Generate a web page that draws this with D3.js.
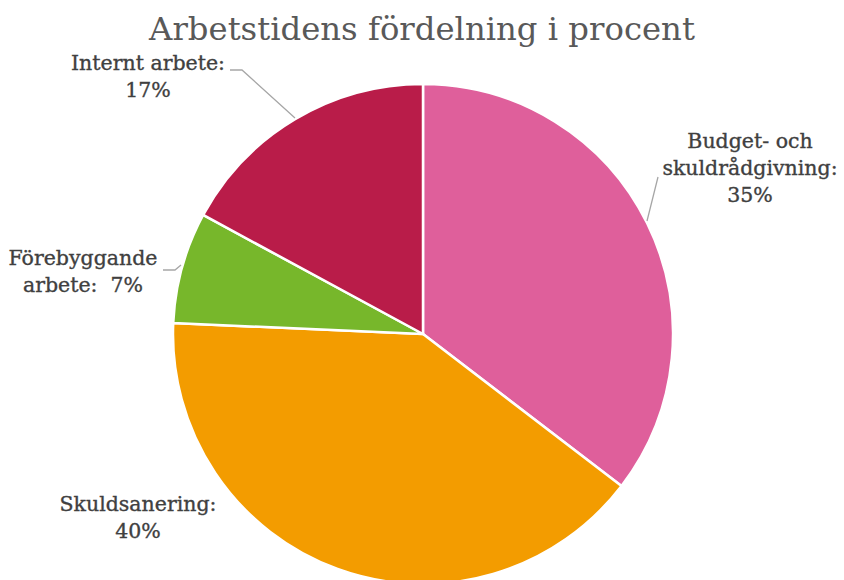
<!DOCTYPE html>
<html><head><meta charset="utf-8">
<script src="https://cdn.jsdelivr.net/npm/d3@7/dist/d3.min.js"></script>
<style>body{margin:0;background:#fff}svg{display:block}</style>
</head><body>
<svg id="c" width="844" height="580"></svg>
<script>
const categories = ["Budget- och skuldrådgivning", "Skuldsanering", "Förebyggande arbete", "Internt arbete"];
const values = [35.4, 40.3, 7.2, 17.1];
const colors = ["#DF5F9B", "#F39C00", "#77B72B", "#B91C49"];
const labelLines = [["Budget- och", "skuldrådgivning:", "{p}"], ["Skuldsanering:", "{p}"], ["Förebyggande", "arbete:  {p}"], ["Internt arbete:", "{p}"]];
const labelPos = [[750, 148], [138, 511], [83, 265], [148, 70]];
const title = "Arbetstidens fördelning i procent";

const svg = d3.select("#c");
const cx = 423, cy = 334, r = 250;
const font = "'DejaVu Serif', serif";
const total = d3.sum(values);
const pie = d3.pie().sort(null).value(d => d)(values);
const arc = d3.arc().innerRadius(0).outerRadius(r);
const g = svg.append("g").attr("transform", `translate(${cx},${cy})`);
g.selectAll("path").data(pie).join("path")
  .attr("d", arc).attr("fill", (d, i) => colors[i])
  .attr("stroke", "#fff").attr("stroke-width", 2.5);

svg.append("text").attr("x", 422).attr("y", 40).attr("text-anchor", "middle")
  .attr("font-family", font).attr("font-size", 32.3).attr("fill", "#595959").text(title);

// leader lines
const leaders = [
  [[658, 177], [647, 221]],
  null,
  [[163, 270], [175, 270], [181, 265]],
  [[230, 70], [242, 70], [295, 118]]
];
leaders.forEach(l => {
  if (!l) return;
  svg.append("path").attr("d", d3.line()(l)).attr("fill", "none")
    .attr("stroke", "#A6A6A6").attr("stroke-width", 1.3);
});

labelLines.forEach((lines, i) => {
  const pct = Math.round(values[i] / total * 100) + "%";
  const t = svg.append("text").attr("text-anchor", "middle")
    .attr("font-family", font).attr("font-size", 20.5).attr("fill", "#404040")
    .attr("stroke", "#404040").attr("stroke-width", 0.35)
    .style("white-space", "pre");
  lines.forEach((ln, j) => {
    t.append("tspan").attr("x", labelPos[i][0]).attr("y", labelPos[i][1] + j * 27)
      .text(ln.replace("{p}", pct));
  });
});
</script>
</body></html>
